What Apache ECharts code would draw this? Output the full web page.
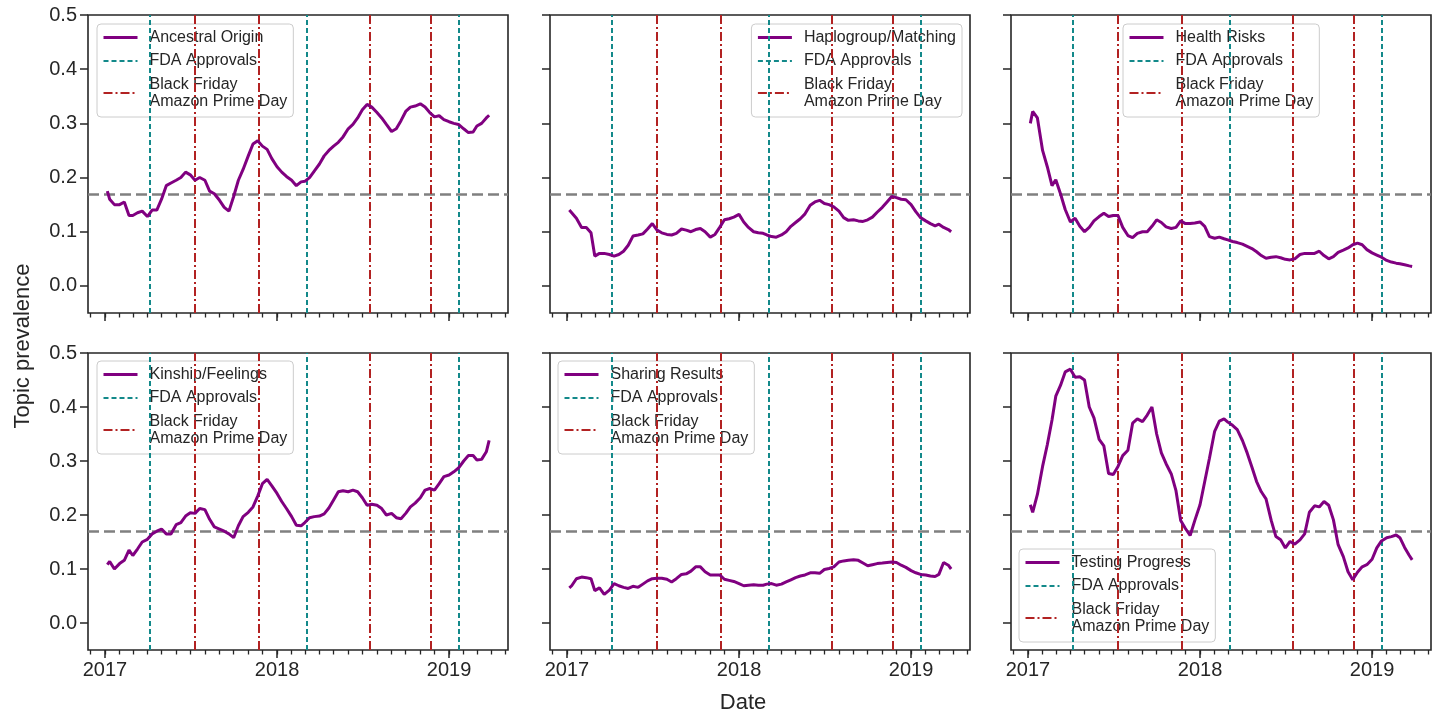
<!DOCTYPE html>
<html>
<head>
<meta charset="utf-8">
<script src="https://cdn.jsdelivr.net/npm/echarts@6/dist/echarts.min.js"></script>
<style>
  html, body { margin: 0; background: #fff; }
  #chart { width: 1436px; height: 715px; }
</style>
</head>
<body>
<div id="chart"></div>
<script>
// sample dates (roughly every 10 days)
var dates = [
  '2017-01-06', '2017-01-11', '2017-01-21', '2017-02-01', '2017-02-11', '2017-02-21',
  '2017-03-01', '2017-03-11', '2017-03-21', '2017-04-01', '2017-04-11', '2017-04-21',
  '2017-05-01', '2017-05-11', '2017-05-21', '2017-06-01', '2017-06-11', '2017-06-21',
  '2017-07-01', '2017-07-11', '2017-07-21', '2017-08-01', '2017-08-11', '2017-08-21',
  '2017-09-01', '2017-09-11', '2017-09-21', '2017-10-01', '2017-10-11', '2017-10-21',
  '2017-11-01', '2017-11-11', '2017-11-21', '2017-12-01', '2017-12-11', '2017-12-21',
  '2018-01-01', '2018-01-11', '2018-01-21', '2018-02-01', '2018-02-11', '2018-02-21',
  '2018-03-01', '2018-03-11', '2018-03-21', '2018-04-01', '2018-04-11', '2018-04-21',
  '2018-05-01', '2018-05-11', '2018-05-21', '2018-06-01', '2018-06-11', '2018-06-21',
  '2018-07-01', '2018-07-11', '2018-07-21', '2018-08-01', '2018-08-11', '2018-08-21',
  '2018-09-01', '2018-09-11', '2018-09-21', '2018-10-01', '2018-10-11', '2018-10-21',
  '2018-11-01', '2018-11-11', '2018-11-21', '2018-12-01', '2018-12-11', '2018-12-21',
  '2019-01-01', '2019-01-11', '2019-01-21', '2019-02-01', '2019-02-11', '2019-02-21',
  '2019-03-01', '2019-03-11', '2019-03-21', '2019-03-27'
];

var topicNames = ['Ancestral Origin', 'Haplogroup/Matching', 'Health Risks',
                  'Kinship/Feelings', 'Sharing Results', 'Testing Progress'];

var ancestralOrigin = [
  0.175, 0.16, 0.15, 0.15, 0.155, 0.13, 0.13, 0.135, 0.138, 0.128, 0.14, 0.14,
  0.16, 0.185, 0.19, 0.195, 0.2, 0.21, 0.205, 0.195, 0.2, 0.195, 0.175, 0.17,
  0.158, 0.145, 0.138, 0.165, 0.195, 0.215, 0.24, 0.262, 0.268, 0.258, 0.252, 0.235,
  0.22, 0.21, 0.202, 0.195, 0.185, 0.192, 0.193, 0.2, 0.212, 0.225, 0.24, 0.25,
  0.258, 0.265, 0.275, 0.29, 0.298, 0.31, 0.325, 0.335, 0.33, 0.32, 0.31, 0.298,
  0.285, 0.29, 0.305, 0.322, 0.33, 0.332, 0.336, 0.33, 0.32, 0.312, 0.314, 0.307,
  0.303, 0.3, 0.298, 0.29, 0.283, 0.284, 0.295, 0.3, 0.31, 0.315
];
var haplogroupMatching = [
  0.14, 0.135, 0.125, 0.108, 0.108, 0.098, 0.055, 0.06, 0.06, 0.058, 0.055, 0.058,
  0.064, 0.075, 0.092, 0.094, 0.096, 0.105, 0.115, 0.103, 0.098, 0.095, 0.094, 0.097,
  0.105, 0.103, 0.1, 0.104, 0.106, 0.1, 0.09, 0.095, 0.108, 0.122, 0.124, 0.127,
  0.132, 0.118, 0.108, 0.1, 0.098, 0.097, 0.094, 0.091, 0.09, 0.094, 0.1, 0.11,
  0.117, 0.124, 0.133, 0.149, 0.155, 0.158, 0.152, 0.15, 0.146, 0.138, 0.126, 0.121,
  0.122, 0.12, 0.119, 0.122, 0.127, 0.136, 0.145, 0.155, 0.165, 0.163, 0.16, 0.159,
  0.15, 0.137, 0.126, 0.12, 0.115, 0.111, 0.114, 0.108, 0.104, 0.1
];
var healthRisks = [
  0.3, 0.322, 0.31, 0.25, 0.22, 0.185, 0.196, 0.17, 0.141, 0.118, 0.125, 0.11,
  0.1, 0.108, 0.12, 0.128, 0.134, 0.128, 0.13, 0.13, 0.108, 0.093, 0.089, 0.097,
  0.1, 0.1, 0.11, 0.122, 0.117, 0.109, 0.106, 0.108, 0.12, 0.115, 0.115, 0.116,
  0.118, 0.11, 0.091, 0.088, 0.09, 0.087, 0.085, 0.082, 0.08, 0.077, 0.073, 0.069,
  0.063, 0.056, 0.051, 0.053, 0.054, 0.052, 0.049, 0.048, 0.05, 0.058, 0.06, 0.06,
  0.06, 0.064, 0.056, 0.05, 0.054, 0.062, 0.066, 0.07, 0.076, 0.079, 0.076, 0.067,
  0.061, 0.057, 0.053, 0.047, 0.044, 0.042, 0.041, 0.039, 0.037, 0.036
];
var kinshipFeelings = [
  0.108, 0.114, 0.1, 0.11, 0.116, 0.135, 0.125, 0.137, 0.15, 0.155, 0.165, 0.17,
  0.174, 0.165, 0.165, 0.182, 0.186, 0.198, 0.204, 0.203, 0.212, 0.21, 0.192, 0.178,
  0.174, 0.17, 0.165, 0.158, 0.18, 0.197, 0.205, 0.215, 0.235, 0.258, 0.266, 0.254,
  0.24, 0.225, 0.212, 0.197, 0.181, 0.18, 0.186, 0.195, 0.197, 0.198, 0.202, 0.213,
  0.228, 0.243, 0.245, 0.243, 0.246, 0.243, 0.232, 0.218, 0.22, 0.218, 0.212, 0.2,
  0.203, 0.195, 0.193, 0.203, 0.215, 0.222, 0.232, 0.246, 0.249, 0.246, 0.258, 0.271,
  0.274, 0.28, 0.287, 0.3, 0.31, 0.31, 0.302, 0.303, 0.317, 0.338
];
var sharingResults = [
  0.065, 0.069, 0.082, 0.085, 0.084, 0.082, 0.06, 0.065, 0.053, 0.061, 0.073, 0.069,
  0.066, 0.064, 0.068, 0.066, 0.072, 0.078, 0.082, 0.083, 0.083, 0.081, 0.076, 0.082,
  0.09, 0.091, 0.096, 0.104, 0.104, 0.095, 0.089, 0.089, 0.089, 0.081, 0.079, 0.077,
  0.073, 0.069, 0.07, 0.071, 0.07, 0.07, 0.072, 0.073, 0.07, 0.072, 0.076, 0.08,
  0.084, 0.087, 0.089, 0.093, 0.093, 0.092, 0.099, 0.101, 0.104, 0.113, 0.115, 0.116,
  0.117, 0.116, 0.111, 0.106, 0.108, 0.11, 0.111, 0.112, 0.113, 0.112, 0.107, 0.103,
  0.097, 0.093, 0.09, 0.089, 0.087, 0.086, 0.09, 0.112, 0.107, 0.1
];
var testingProgress = [
  0.219, 0.205, 0.238, 0.29, 0.33, 0.376, 0.42, 0.44, 0.465, 0.47, 0.455, 0.456,
  0.45, 0.4, 0.38, 0.34, 0.328, 0.277, 0.275, 0.29, 0.31, 0.32, 0.37, 0.378,
  0.373, 0.385, 0.4, 0.35, 0.315, 0.295, 0.276, 0.245, 0.19, 0.175, 0.162, 0.19,
  0.219, 0.262, 0.305, 0.355, 0.374, 0.378, 0.372, 0.366, 0.358, 0.338, 0.315, 0.289,
  0.262, 0.243, 0.23, 0.19, 0.16, 0.154, 0.139, 0.151, 0.146, 0.154, 0.165, 0.205,
  0.217, 0.215, 0.225, 0.218, 0.191, 0.145, 0.123, 0.095, 0.08, 0.094, 0.104, 0.108,
  0.118, 0.139, 0.152, 0.158, 0.16, 0.163, 0.158, 0.14, 0.125, 0.117
];
var topicValues = [ancestralOrigin, haplogroupMatching, healthRisks,
                   kinshipFeelings, sharingResults, testingProgress];

var fdaDates = ['2017-04-06', '2018-03-06', '2019-01-22'];
var shoppingDates = ['2017-07-11', '2017-11-24', '2018-07-16', '2018-11-23'];
var evenShare = 0.1667;

var yTicks = [0, 0.1, 0.2, 0.3, 0.4, 0.5];
var yearTicks = ['2017-01-01', '2018-01-01', '2019-01-01'];
var xStart = '2016-11-26', xEnd = '2019-05-06';

var fdaName = 'FDA Approvals';
var shopName = 'Black Friday\nAmazon Prime Day';

function toTs(s) {
  var p = s.split('-');
  return new Date(+p[0], +p[1] - 1, +p[2]).getTime();
}

var xMin = toTs(xStart), xMax = toTs(xEnd);
var yearTs = yearTicks.map(toTs);
// minor ticks on the first day of every month
var monthTs = [];
for (var yy = 2016; yy <= 2019; yy++) {
  for (var mm = 0; mm < 12; mm++) {
    var t = new Date(yy, mm, 1).getTime();
    if (t >= xMin && t <= xMax) monthTs.push(t);
  }
}

var FONT = '"Liberation Sans", Arial, sans-serif';
var INK = '#262626';
var PURPLE = '#800080', TEAL = '#13898a', RED = '#b22222', GRAY = '#808080';

var gridLeft = [88, 550, 1011];
var gridTop = [15, 353];
var legendPos = [
  { left: 97, top: 24 },
  { right: 474, top: 24 },
  { left: 1123, top: 24 },
  { left: 97, top: 361 },
  { left: 558, top: 361 },
  { left: 1019, bottom: 73 }
];

var grids = [], xAxes = [], yAxes = [], series = [], legends = [];

for (var g = 0; g < 6; g++) {
  var row = Math.floor(g / 3), col = g % 3;
  grids.push({
    left: gridLeft[col], top: gridTop[row], width: 420, height: row === 0 ? 298 : 297,
    show: true, borderColor: INK, borderWidth: 1.6, backgroundColor: 'transparent'
  });
  // monthly minor ticks (x values are timestamps)
  xAxes.push({
    type: 'value', gridIndex: g, min: xMin, max: xMax, position: 'bottom',
    axisLine: { show: false, onZero: false },
    axisTick: { show: true, customValues: monthTs, length: 4.5, lineStyle: { color: INK, width: 1.3 } },
    axisLabel: { show: false },
    splitLine: { show: false }
  });
  // yearly major ticks + labels
  xAxes.push({
    type: 'value', gridIndex: g, min: xMin, max: xMax, position: 'bottom',
    axisLine: { show: false, onZero: false },
    axisTick: { show: true, customValues: yearTs, length: 8, lineStyle: { color: INK, width: 1.5 } },
    axisLabel: {
      show: row === 1, customValues: yearTs, margin: 10,
      fontSize: 20, color: INK, fontFamily: FONT,
      formatter: function (v) { return String(new Date(v).getFullYear()); }
    },
    splitLine: { show: false }
  });
  yAxes.push({
    type: 'value', gridIndex: g, min: -0.05, max: 0.5,
    axisLine: { show: false, onZero: false },
    axisTick: { show: true, customValues: yTicks, length: 8, lineStyle: { color: INK, width: 1.5 } },
    axisLabel: {
      show: col === 0, customValues: yTicks, margin: 11,
      fontSize: 20, color: INK, fontFamily: FONT,
      formatter: function (v) { return v.toFixed(1); }
    },
    splitLine: { show: false }
  });

  var xi = 2 * g + 1;
  var vals = topicValues[g];
  series.push({
    type: 'line', xAxisIndex: xi, yAxisIndex: g, data: [], z: 2, silent: true,
    markLine: {
      silent: true, symbol: 'none', label: { show: false }, animation: false,
      lineStyle: { color: GRAY, width: 2.5, type: [11, 5] },
      data: [{ yAxis: evenShare }]
    }
  });
  series.push({
    type: 'line', name: fdaName, xAxisIndex: xi, yAxisIndex: g, data: [], z: 3,
    symbol: 'none', lineStyle: { color: TEAL, width: 2, type: [5, 3] }, itemStyle: { color: TEAL },
    markLine: {
      silent: true, symbol: 'none', label: { show: false }, animation: false,
      lineStyle: { color: TEAL, width: 2, type: [5, 3] },
      data: fdaDates.map(function (d) { return { xAxis: toTs(d) }; })
    }
  });
  series.push({
    type: 'line', name: shopName, xAxisIndex: xi, yAxisIndex: g, data: [], z: 3,
    symbol: 'none', lineStyle: { color: RED, width: 2, type: [9, 3, 2, 3] }, itemStyle: { color: RED },
    markLine: {
      silent: true, symbol: 'none', label: { show: false }, animation: false,
      lineStyle: { color: RED, width: 2, type: [9, 3, 2, 3] },
      data: shoppingDates.map(function (d) { return { xAxis: toTs(d) }; })
    }
  });
  series.push({
    type: 'line', name: topicNames[g], xAxisIndex: xi, yAxisIndex: g, z: 5,
    symbol: 'none', showSymbol: false,
    lineStyle: { color: PURPLE, width: 3 }, itemStyle: { color: PURPLE },
    data: dates.map(function (d, i) { return [toTs(d), vals[i]]; })
  });

  var lg = {
    orient: 'vertical', selectedMode: false,
    data: [
      { name: topicNames[g], lineStyle: { width: 3 }, itemStyle: { opacity: 0 } },
      { name: fdaName, lineStyle: { width: 2, type: [5, 3] }, itemStyle: { opacity: 0 } },
      { name: shopName, lineStyle: { width: 2, type: [9, 3, 2, 3] }, itemStyle: { opacity: 0 } }
    ],
    itemWidth: 34, itemHeight: 14, itemGap: 6.5,
    padding: [5, 6, 7, 5],
    backgroundColor: 'rgba(255,255,255,0.8)',
    borderColor: '#cccccc', borderWidth: 1, borderRadius: 4,
    textStyle: { fontSize: 16, lineHeight: 17, color: INK, fontFamily: FONT, padding: [0, 0, 0, 7] }
  };
  var pos = legendPos[g];
  for (var k in pos) lg[k] = pos[k];
  legends.push(lg);
}

var chart = echarts.init(document.getElementById('chart'));
chart.setOption({
  animation: false,
  backgroundColor: '#ffffff',
  grid: grids,
  xAxis: xAxes,
  yAxis: yAxes,
  legend: legends,
  series: series,
  graphic: [
    {
      type: 'text', x: 23, y: 346, rotation: Math.PI / 2,
      style: { text: 'Topic prevalence', fontSize: 22, fontFamily: FONT, fill: INK, align: 'center', verticalAlign: 'middle' }
    },
    {
      type: 'text', x: 743, y: 703,
      style: { text: 'Date', fontSize: 22, fontFamily: FONT, fill: INK, align: 'center', verticalAlign: 'middle' }
    }
  ]
});
</script>
</body>
</html>
